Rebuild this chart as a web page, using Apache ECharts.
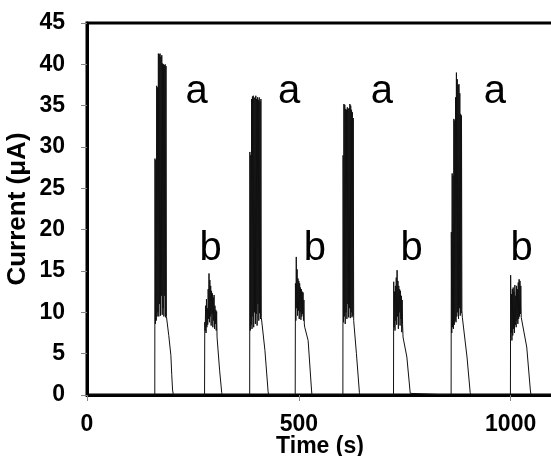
<!DOCTYPE html>
<html>
<head>
<meta charset="utf-8">
<script src="https://cdn.jsdelivr.net/npm/echarts@6/dist/echarts.min.js"></script>
<style>
html,body{margin:0;padding:0;background:#fff;}
#chart{width:551px;height:456px;}
</style>
</head>
<body>
<div id="chart"></div>
<script>
// Time (s), Current (µA) pairs, one array per injection peak
var peakA1 = [[160,0],[160.5,28.6],[161.5,8.6],[162.5,28.4],[163.5,9],[164.5,37.4],[165.5,9.5],[166.5,37.2],[167.5,10],[168.5,41.3],[169.5,9.5],[170.5,41.2],[171.5,11],[172.5,41.3],[173.5,9.6],[174.5,40.9],[175.5,12],[176.5,41.1],[177.5,9.7],[178.5,40.1],[179.5,10.5],[180.5,40.0],[181.5,9.5],[182.5,39.9],[183.5,12],[184.5,40.0],[185.5,9.4],[186.5,39.8],[187.5,9.5],[193,7.2],[198,4.8],[200,2.5],[202,0.6],[204,0]];
var peakB1 = [[277.5,0],[278,8.8],[279,7.8],[280,10.8],[281,7.5],[282,11.6],[283,8.2],[284,10.5],[285,8.5],[286,12.8],[287,9.2],[288,14.7],[289,8.8],[290,13.9],[291,9.5],[292,13.2],[293,8.4],[294,12.6],[295,9.8],[296,12.3],[297,8.2],[298,11.8],[299,9],[300,12.1],[301,8],[302,10.8],[303,8.6],[304,10.3],[305,7.8],[306,10.1],[307,7.0],[313,3],[318,0.3],[319,0]];
var peakA2 = [[384,0],[384.5,29.4],[385.5,7.8],[386.5,29],[387.5,8.5],[388.5,35.8],[389.5,8],[390.5,36.1],[391.5,9.5],[392.5,36.2],[393.5,8.2],[394.5,35.9],[395.5,10],[396.5,36.0],[397.5,8.6],[398.5,36.2],[399.5,9.8],[400.5,35.8],[401.5,8.4],[402.5,36.0],[403.5,11],[404.5,35.7],[405.5,9],[406.5,36.0],[407.5,9.9],[408.5,35.5],[409.5,9.2],[410.5,35.8],[411.5,9.4],[420,5.4],[427.5,0.4],[429,0]];
var peakB2 = [[491.5,0],[492,13.5],[493,9],[494,16.7],[495,10.5],[496,15.2],[497,9.6],[498,14.1],[499,10.2],[500,13.8],[501,9.2],[502,13.5],[503,10],[504,13.0],[505,9.1],[506,12.8],[507,9.5],[508,12.5],[509,9.8],[510,12.4],[511,9],[512,11.5],[513,8.6],[514,8.2],[522,6.6],[530,0.6],[531,0]];
var peakA3 = [[604,0],[604.5,29],[605.5,8.8],[606.5,35.2],[607.5,9.5],[608.5,35.1],[609.5,8.6],[610.5,34.6],[611.5,10],[612.5,34.5],[613.5,9.2],[614.5,34.8],[615.5,11],[616.5,34.6],[617.5,9.4],[618.5,34.7],[619.5,10.5],[620.5,35.2],[621.5,9.3],[622.5,35.0],[623.5,10],[624.5,34.5],[625.5,9.4],[626.5,34.2],[627.5,9.6],[628.5,33.5],[629.5,9.0],[636,5],[643,0.3],[644,0]];
var peakB3 = [[723.5,0],[724,13.7],[725,8.2],[726,12.5],[727,7.8],[728,13.2],[729,9],[730,14.2],[731,8.5],[732,15.1],[733,9.5],[734,13.8],[735,8],[736,13.2],[737,10],[738,12.8],[739,8.4],[740,12.6],[741,9.2],[742,12.0],[743,7.6],[744,11.5],[745,8.5],[746,7.0],[755,4.6],[763,0.2],[764,0]];
var peakA4 = [[859.5,0],[860,19.7],[861,7.5],[862,26.8],[863,8.2],[864,26.5],[865,8],[866,33.4],[867,8.5],[868,33.2],[869,9],[870,36],[871,8.8],[872,39.0],[873,9.5],[874,38.2],[875,10],[876,37.5],[877,9.2],[878,37.6],[879,10.5],[880,36.5],[881,9.6],[882,34],[883,9.9],[884,33.8],[885,10.2],[886,9.4],[897,4.6],[904.5,0.3],[906,0]];
var peakB4 = [[999.5,0],[1000,14.5],[1001,7.5],[1002,12.2],[1003,6.6],[1004,12.8],[1005,7.2],[1006,13.0],[1007,8.0],[1008,12.5],[1009,7.5],[1010,13.3],[1011,8.5],[1012,12.0],[1013,8.2],[1014,13.2],[1015,9],[1016,12.8],[1017,8.6],[1018,13.6],[1019,9.2],[1020,14.0],[1021,9.5],[1022,13.8],[1023,9.8],[1024,13.2],[1025,9.4],[1038,5.8],[1046.5,0.6],[1048,0]];
var baselineStart = [[0,0]];
var baselineEnd = [[1100,0]];

// annotation letters and where they sit (data coordinates)
var labelTexts = ['a','b','a','b','a','b','a','b'];
var labelTimes = [259, 292, 477, 538, 696, 766, 963, 1026];
var labelCurrents = [36.6, 17.7, 36.6, 17.7, 36.6, 17.7, 36.6, 17.7];

// axis ticks
var xTicks = [0, 500, 1000];
var yMin = 0, yMax = 45, yStep = 5;
var xMin = 0, xMax = 1100, xStep = 500;

var trace = [].concat(baselineStart, peakA1, peakB1, peakA2, peakB2, peakA3, peakB3, peakA4, peakB4, baselineEnd);
var labelData = labelTexts.map(function(t, i){ return {name: t, value: [labelTimes[i], labelCurrents[i]]}; });

var FONT = "'Liberation Sans', Arial, sans-serif";
var chart = echarts.init(document.getElementById('chart'), null, {renderer: 'canvas'});
chart.setOption({
  animation: false,
  backgroundColor: '#fff',
  grid: {left: 87, right: -2, top: 23, bottom: 61, show: true, borderColor: '#000', borderWidth: 3, backgroundColor: 'transparent', containLabel: false, outerBoundsMode: 'none'},
  xAxis: {
    type: 'value', min: xMin, max: xMax, interval: xStep,
    name: 'Time (s)', nameLocation: 'middle', nameGap: 40, nameMoveOverlap: false,
    nameTextStyle: {fontFamily: FONT, fontWeight: 'bold', fontSize: 23, color: '#000'},
    axisLine: {show: true, lineStyle: {color: '#000', width: 3}},
    axisTick: {show: true, length: 6, lineStyle: {color: '#888', width: 1}},
    axisLabel: {margin: 18, fontFamily: FONT, fontWeight: 'bold', fontSize: 23, color: '#000',
      formatter: function(v){ return xTicks.indexOf(v) >= 0 ? String(v) : ''; }},
    splitLine: {show: false}
  },
  yAxis: {
    type: 'value', min: yMin, max: yMax, interval: yStep,
    name: 'Current (μA)', nameLocation: 'middle', nameGap: 56, nameMoveOverlap: false,
    nameTextStyle: {fontFamily: FONT, fontWeight: 'bold', fontSize: 26, color: '#000'},
    axisLine: {show: true, lineStyle: {color: '#000', width: 3}},
    axisTick: {show: true, length: 6, lineStyle: {color: '#888', width: 1}},
    axisLabel: {margin: 22, fontFamily: FONT, fontWeight: 'bold', fontSize: 23, color: '#000'},
    splitLine: {show: false}
  },
  series: [
    {
      type: 'line', data: trace, showSymbol: false, symbol: 'none',
      lineStyle: {color: '#111', width: 1}, z: 1
    },
    {
      type: 'scatter', data: labelData, symbol: 'circle', symbolSize: 0,
      itemStyle: {color: '#000', opacity: 1},
      label: {show: true, position: 'inside', formatter: '{b}', fontFamily: FONT, fontSize: 40, color: '#000', opacity: 1, textBorderWidth: 0, align: 'center', verticalAlign: 'middle'},
      z: 3
    }
  ]
});
</script>
</body>
</html>
